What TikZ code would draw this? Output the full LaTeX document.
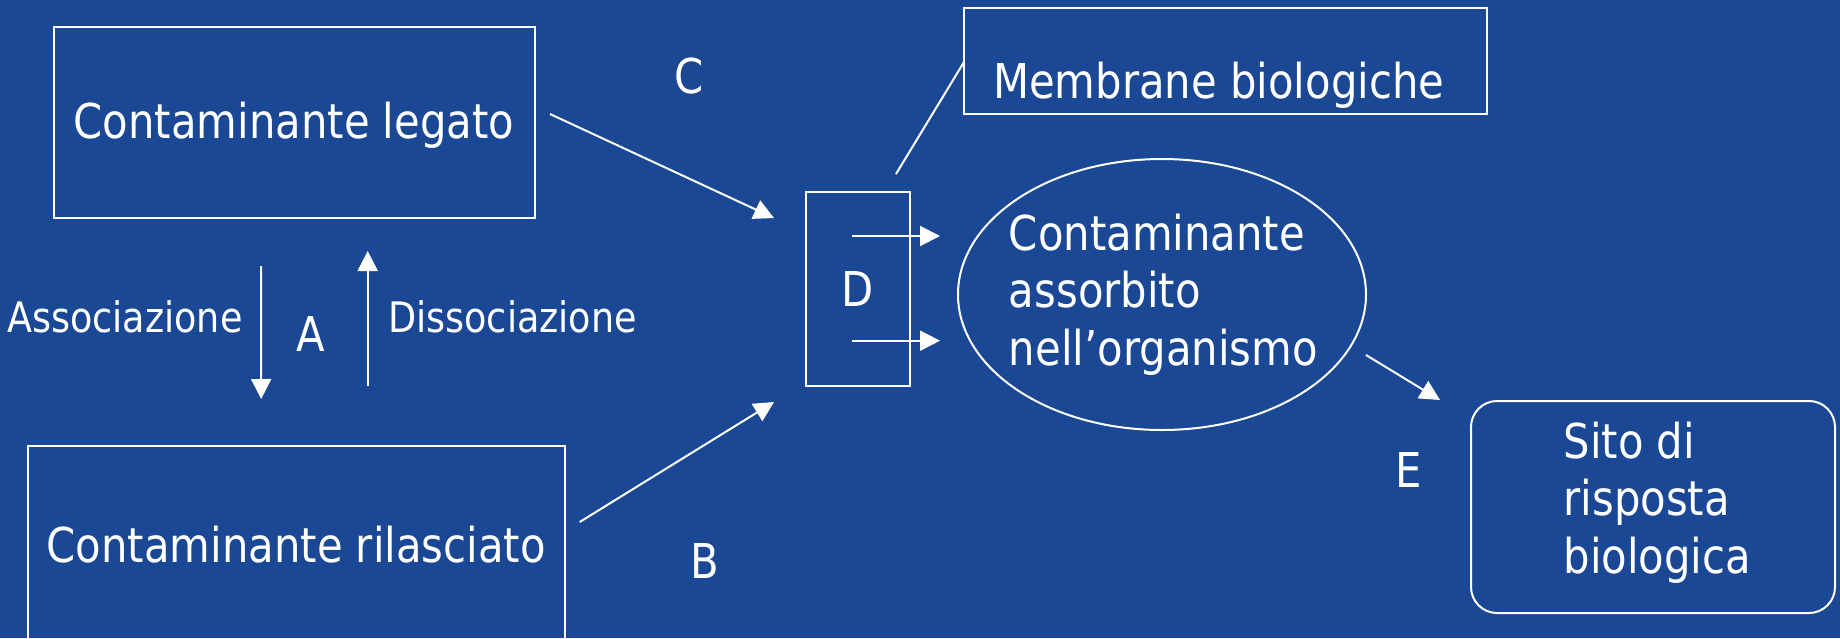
\documentclass[tikz,border=0pt]{standalone}
\usepackage{fontspec}
\setmainfont{DejaVu Sans}[FakeStretch=0.87]
\usetikzlibrary{arrows.meta,shapes.geometric}
\definecolor{bgblue}{RGB}{26,72,149}
\begin{document}
\begin{tikzpicture}[x=1pt,y=-1pt,
  every node/.style={text=white},
  big/.style={font=\fontsize{48}{57.5}\selectfont},
  small/.style={font=\fontsize{42}{50}\selectfont},
  capbox/.style={text height=35pt,text depth=0pt},
  frame/.style={draw=white,line width=2pt,inner sep=0pt},
  conn/.style={draw=white,line width=2pt},
  arr/.style={conn,-{Triangle[length=20pt,width=20pt]}},
  txt/.style={inner sep=0pt,big},
]
\useasboundingbox (0,0) rectangle (1840,638);
\clip (0,0) rectangle (1840,638);
\fill[bgblue] (0,0) rectangle (1840,638);

% boxes
\node[frame,minimum width=481pt,minimum height=191pt] (legato) at (294,122.5) {};
\node[txt,capbox] (legatotxt) at (294,120.5) {Contaminante legato};
\node[frame,big,capbox,minimum width=537pt,minimum height=198pt] (rilasciato) at (296.2,545) {Contaminante rilasciato};
\node[frame,minimum width=523pt,minimum height=106pt] (memb) at (1225.5,61) {};
\node[txt,anchor=base west] (membtxt) at (993,98) {Membrane biologiche};
\node[frame,big,capbox,minimum width=104pt,minimum height=194pt] (D) at (858,289) {D};
\node[frame,ellipse,minimum width=408pt,minimum height=271pt] (abs) at (1162,294.5) {};
\node[txt,anchor=base west,align=left] (abstxt) at (1008.7,365) {Contaminante\\assorbito\\nell’organismo};
\node[frame,rounded corners=26pt,minimum width=364pt,minimum height=212pt] (sito) at (1653,507) {};
\node[txt,anchor=base west,align=left] (sitotxt) at (1563.4,573) {Sito di\\risposta\\biologica};

% labels
\node[txt,small,anchor=base west] (assoc) at (7,332) {Associazione};
\node[txt,small,anchor=base west] (dissoc) at (388,332) {Dissociazione};
\node[txt,anchor=base] (labA) at (310.8,351.7) {A};
\node[txt,anchor=base] (labC) at (689,93) {C};
\node[txt,anchor=base] (labB) at (704.7,578) {B};
\node[txt,anchor=base] (labE) at (1408.7,487) {E};

% connectors
\draw[arr] ([shift={(-33,47)}]legato.south) -- ([shift={(-35,-46)}]rilasciato.north);
\draw[arr] ([shift={(71.5,-59)}]rilasciato.north) -- ([shift={(73.7,32)}]legato.south);
\draw[arr] ([shift={(14.5,-8.5)}]legato.east) -- ([shift={(-31,27)}]D.north west);
\draw[arr] ([shift={(14,-23)}]rilasciato.east) -- ([shift={(-31,15)}]D.south west);
\draw[arr] ([shift={(-6.5,-53)}]D.center) -- ([shift={(-17,-58.5)}]abs.west);
\draw[arr] ([shift={(-6.5,51.7)}]D.center) -- ([shift={(-17,46.2)}]abs.west);
\draw[arr] ([shift={(-1,60.5)}]abs.east) -- ([shift={(-30,0)}]sito.north west);
\draw[conn] ([shift={(1,1)}]memb.west) -- ([shift={(38,-17)}]D.north);
\end{tikzpicture}
\end{document}
